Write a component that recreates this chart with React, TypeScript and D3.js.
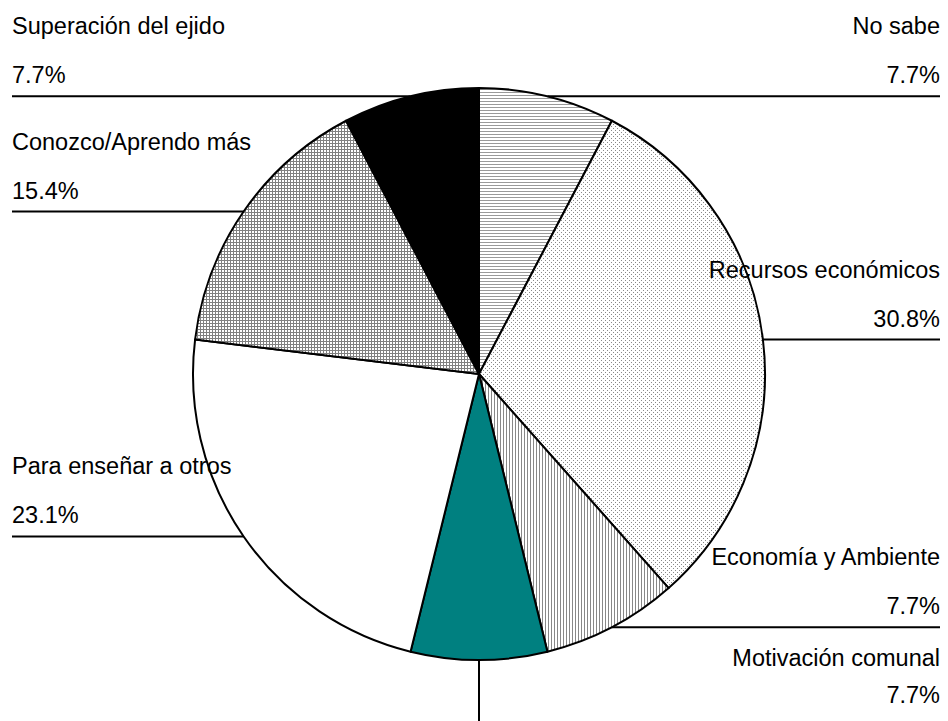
import React from "react";
import * as d3 from "d3";

// categories clockwise from 12 o'clock
const categories = [
  "No sabe",
  "Recursos económicos",
  "Economía y Ambiente",
  "Motivación comunal",
  "Para enseñar a otros",
  "Conozco/Aprendo más",
  "Superación del ejido",
];
const percents = [7.7, 30.8, 7.7, 7.7, 23.1, 15.4, 7.7];
const fills = [
  "url(#hlines)",
  "url(#dots)",
  "url(#vlines)",
  "#008080",
  "#ffffff",
  "url(#grid)",
  "#000000",
];

const W = 948;
const H = 721;

export default function App() {
  const cx = 479;
  const cy = 374;
  const r = 286;

  const pie = d3.pie<number>().sort(null).value((d) => d);
  const arcs = pie(percents);
  const arc = d3.arc<d3.PieArcDatum<number>>().innerRadius(0).outerRadius(r);

  const font = "Arial, 'Liberation Sans', sans-serif";
  const fs = 23.5;

  return (
    <svg
      width={W}
      height={H}
      style={{ position: "absolute", left: 0, top: 0, background: "#fff" }}
    >
      <defs>
        <pattern id="hlines" width="4" height="3" patternUnits="userSpaceOnUse">
          <rect width="4" height="3" fill="#fff" />
          <rect width="4" height="1" fill="#999" />
        </pattern>
        <pattern id="vlines" width="3" height="4" patternUnits="userSpaceOnUse">
          <rect width="3" height="4" fill="#fff" />
          <rect width="1" height="4" fill="#888" />
        </pattern>
        <pattern id="dots" width="4" height="4" patternUnits="userSpaceOnUse">
          <rect width="4" height="4" fill="#fff" />
          <rect x="0" y="0" width="1" height="1" fill="#888" />
          <rect x="2" y="2" width="1" height="1" fill="#888" />
        </pattern>
        <pattern id="grid" width="3" height="3" patternUnits="userSpaceOnUse">
          <rect width="3" height="3" fill="#fff" />
          <rect width="3" height="1" fill="#808080" />
          <rect width="1" height="3" fill="#808080" />
        </pattern>
      </defs>

      <g transform={`translate(${cx},${cy})`}>
        {arcs.map((a, i) => (
          <path
            key={i}
            d={arc(a) || ""}
            fill={fills[i]}
            stroke="#000"
            strokeWidth={2}
            strokeLinejoin="round"
          />
        ))}
      </g>

      {arcs.map((a, i) => {
        const mid = (a.startAngle + a.endAngle) / 2;
        const px = cx + r * Math.sin(mid);
        const py = cy - r * Math.cos(mid);
        const pct = d3.format(".1f")(percents[i]) + "%";
        if (Math.abs(mid - Math.PI) < 0.05) {
          // bottom slice: vertical leader, labels on the right
          return (
            <g key={i} fontFamily={font} fontSize={fs} fill="#000">
              <line x1={px} y1={py} x2={px} y2={H} stroke="#000" strokeWidth={2} />
              <text x={940} y={py + 6} textAnchor="end">{categories[i]}</text>
              <text x={940} y={py + 43} textAnchor="end">{pct}</text>
            </g>
          );
        }
        const right = mid < Math.PI;
        const tx = right ? 940 : 12;
        return (
          <g key={i} fontFamily={font} fontSize={fs} fill="#000">
            <line x1={px} y1={py} x2={tx} y2={py} stroke="#000" strokeWidth={2} />
            <text x={tx} y={py - 62} textAnchor={right ? "end" : "start"}>
              {categories[i]}
            </text>
            <text x={tx} y={py - 13} textAnchor={right ? "end" : "start"}>
              {pct}
            </text>
          </g>
        );
      })}
    </svg>
  );
}
